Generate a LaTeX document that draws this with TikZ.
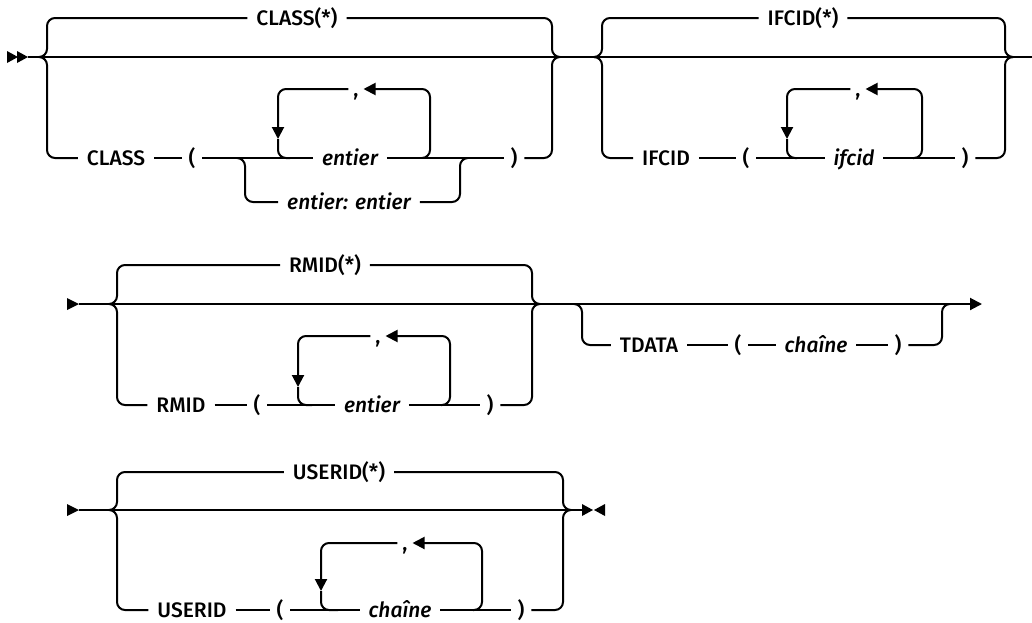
\documentclass[tikz,border=0pt]{standalone}
\usepackage{fontspec}
\setmainfont{Fira Sans}[UprightFont=* Medium, ItalicFont=* Medium Italic]
\usetikzlibrary{arrows.meta}

\tikzset{
  kw/.style={font=\fontsize{21}{24}\selectfont, inner xsep=8pt, inner ysep=0pt, text height=14.5pt, text depth=0pt},
  var/.style={kw, font=\fontsize{21}{24}\selectfont\itshape},
  pun/.style={kw, inner xsep=6pt},
  commabox/.style={kw, inner xsep=4pt},
  tip/.style={-{Triangle[length=12pt,width=12pt]}},
}

\begin{document}
\begin{tikzpicture}[x=1pt, y=-1pt, line width=2pt, rounded corners=8pt]
\useasboundingbox (0,0) rectangle (1032,622);

% ---- row 1: CLASS / IFCID
\fill[sharp corners] (7,51) -- (18,57) -- (7,63) -- cycle;
\fill[sharp corners] (17,51) -- (28,57) -- (17,63) -- cycle;
\coordinate (s1) at (28,57);
\coordinate (e1) at (1032,57);
\draw (s1) -- (e1);

\coordinate (jA) at (39,57);  \coordinate (lA) at (47,57);
\coordinate (rA) at (552,57); \coordinate (oA) at (560,57);
\node[kw] (class1) at (297,18) {CLASS(*)};
\node[kw] (class2) at (116,158) {CLASS};
\node[pun] (lp1) at (192,158) {(};
\node[var] (ent1) at (350,158) {entier};
\node[pun] (rp1) at (514,158) {)};
\node[commabox] (com1) at (356,89) {,};
\node[var] (alt1) at (349,202) {entier: entier};
\draw (jA) -- (lA) |- (class1.west);
\draw (class1.east) -| (rA) -- (oA);
\draw (jA) -- (lA) |- (class2.west);
\draw (class2.east) -- (lp1.west);
\draw (lp1.east) -- (ent1.west);
\draw (ent1.east) -- (rp1.west);
\draw (rp1.east) -| (rA) -- (oA);
% alternative range
\coordinate (aA1) at (237,158); \coordinate (aA2) at (245,158);
\coordinate (aA3) at (460,158); \coordinate (aA4) at (468,158);
\draw (aA1) -- (aA2) |- (alt1.west);
\draw (alt1.east) -| (aA3) -- (aA4);
% repeat loop
\coordinate (pA1) at (422,158); \coordinate (pA2) at (430,158);
\coordinate (dA) at (278,139);  \coordinate (qA) at (290,158);
\draw[tip] (pA1) -- (pA2) |- (com1.east);
\draw[tip] (com1.west) -| (dA);
\draw (dA) |- (qA);

\coordinate (jB) at (595,57);  \coordinate (lB) at (602,57);
\coordinate (rB) at (1005,57); \coordinate (oB) at (1012,57);
\node[kw] (ifc1) at (803,18) {IFCID(*)};
\node[kw] (ifc2) at (666,158) {IFCID};
\node[pun] (lp2) at (746,158) {(};
\node[var] (ifcv) at (854,158) {ifcid};
\node[pun] (rp2) at (965,158) {)};
\node[commabox] (com2) at (858,89) {,};
\draw (jB) -- (lB) |- (ifc1.west);
\draw (ifc1.east) -| (rB) -- (oB);
\draw (jB) -- (lB) |- (ifc2.west);
\draw (ifc2.east) -- (lp2.west);
\draw (lp2.east) -- (ifcv.west);
\draw (ifcv.east) -- (rp2.west);
\draw (rp2.east) -| (rB) -- (oB);
\coordinate (pB1) at (913,158); \coordinate (pB2) at (922,158);
\coordinate (dB) at (787,139);  \coordinate (qB) at (797,158);
\draw[tip] (pB1) -- (pB2) |- (com2.east);
\draw[tip] (com2.west) -| (dB);
\draw (dB) |- (qB);

% ---- row 2: RMID / TDATA
\fill[sharp corners] (67,298) -- (79,304) -- (67,310) -- cycle;
\coordinate (s2) at (79,304);
\coordinate (e2) at (982,304);
\draw[tip] (s2) -- (e2);

\coordinate (jC) at (109,304);  \coordinate (lC) at (117,304);
\coordinate (rC) at (532,304); \coordinate (oC) at (540,304);
\node[kw] (rmid1) at (325,265) {RMID(*)};
\node[kw] (rmid2) at (181,405) {RMID};
\node[pun] (lp3) at (257,405) {(};
\node[var] (ent3) at (372,405) {entier};
\node[pun] (rp3) at (490,405) {)};
\node[commabox] (com3) at (378,336) {,};
\draw (jC) -- (lC) |- (rmid1.west);
\draw (rmid1.east) -| (rC) -- (oC);
\draw (jC) -- (lC) |- (rmid2.west);
\draw (rmid2.east) -- (lp3.west);
\draw (lp3.east) -- (ent3.west);
\draw (ent3.east) -- (rp3.west);
\draw (rp3.east) -| (rC) -- (oC);
\coordinate (pC1) at (441,405); \coordinate (pC2) at (450,405);
\coordinate (dC) at (298,387);  \coordinate (qC) at (312,405);
\draw[tip] (pC1) -- (pC2) |- (com3.east);
\draw[tip] (com3.west) -| (dC);
\draw (dC) |- (qC);

\coordinate (tA) at (574,304); \coordinate (tB) at (582,304);
\coordinate (tC) at (942,304); \coordinate (tD) at (950,304);
\node[kw] (tdata) at (649,345) {TDATA};
\node[pun] (lp4) at (738,345) {(};
\node[var] (chn1) at (816,345) {chaîne};
\node[pun] (rp4) at (898,345) {)};
\draw (tA) -- (tB) |- (tdata.west);
\draw (tdata.east) -- (lp4.west);
\draw (lp4.east) -- (chn1.west);
\draw (chn1.east) -- (rp4.west);
\draw (rp4.east) -| (tC) -- (tD);

% ---- row 3: USERID
\fill[sharp corners] (67,504) -- (79,510) -- (67,516) -- cycle;
\coordinate (s3) at (79,510);
\coordinate (e3) at (582,510);
\draw (s3) -- (e3);
\fill[sharp corners] (582,504) -- (593,510) -- (582,516) -- cycle;
\fill[sharp corners] (605,504) -- (594,510) -- (605,516) -- cycle;

\coordinate (jD) at (109,510);  \coordinate (lD) at (117,510);
\coordinate (rD) at (563,510); \coordinate (oD) at (571,510);
\node[kw] (usr1) at (339,472) {USERID(*)};
\node[kw] (usr2) at (192,610) {USERID};
\node[pun] (lp5) at (280,610) {(};
\node[var] (chn2) at (400,610) {chaîne};
\node[pun] (rp5) at (521,610) {)};
\node[commabox] (com4) at (405,543) {,};
\draw (jD) -- (lD) |- (usr1.west);
\draw (usr1.east) -| (rD) -- (oD);
\draw (jD) -- (lD) |- (usr2.west);
\draw (usr2.east) -- (lp5.west);
\draw (lp5.east) -- (chn2.west);
\draw (chn2.east) -- (rp5.west);
\draw (rp5.east) -| (rD) -- (oD);
\coordinate (pD1) at (473,610); \coordinate (pD2) at (482,610);
\coordinate (dD) at (321,591);  \coordinate (qD) at (338,610);
\draw[tip] (pD1) -- (pD2) |- (com4.east);
\draw[tip] (com4.west) -| (dD);
\draw (dD) |- (qD);
\end{tikzpicture}
\end{document}
